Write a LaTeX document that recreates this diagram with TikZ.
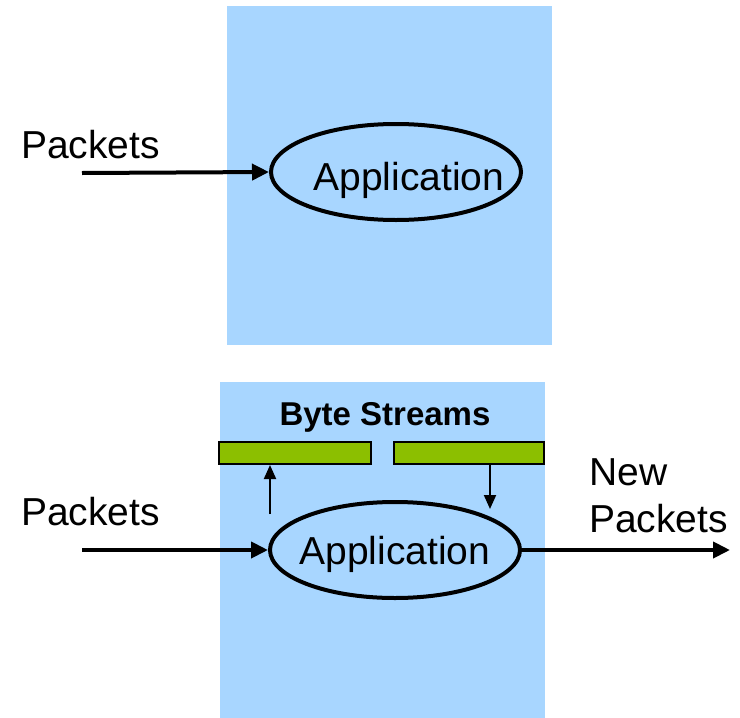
\documentclass[tikz,border=0pt]{standalone}
\usepackage{xcolor}
\usepackage{fontspec}
\setmainfont{Liberation Sans}
\usetikzlibrary{shapes.geometric,arrows.meta}
\definecolor{panelblue}{RGB}{168,214,255}
\definecolor{streamgreen}{RGB}{140,191,0}
\begin{document}
\begin{tikzpicture}[
    x=1pt, y=-1pt,
    every node/.style={font=\fontsize{39pt}{47pt}\selectfont, inner sep=0pt},
    app/.style={ellipse, draw, line width=4pt, minimum width=250pt, minimum height=96pt},
    stream/.style={rectangle, draw, fill=streamgreen, line width=2pt, minimum height=22pt},
    flow/.style={line width=4pt, -{Triangle[length=17pt,width=16pt]}},
    copy/.style={line width=2pt, -{Triangle[length=14pt,width=12pt]}}
]
\useasboundingbox (0,0) rectangle (740,718);
\fill[panelblue] (227,6) rectangle (552,345);
\fill[panelblue] (220,382) rectangle (545,718);
% top: packets go to the application
\node[app] (app1) at (396,172) {};
\node[anchor=base] (app1text) at (409,190) {Application};
\node[anchor=base west] (pkt1) at (21,158) {Packets};
\coordinate (in1) at (82,173);
\draw[flow] (in1) -- (app1.west);
% bottom: application writes new packets
\node[app] (app2) at (395,550) {};
\node[anchor=base] (app2text) at (395,564) {Application};
\node[anchor=base west] (pkt2) at (21,525) {Packets};
\node[anchor=base west, align=left] (newpkt) at (589,532) {New\\Packets};
\node[anchor=base, font=\bfseries\fontsize{33pt}{39pt}\selectfont] (title) at (385,425) {Byte Streams};
\node[stream, minimum width=152pt] (bar1) at (295,453) {};
\node[stream, minimum width=150pt] (bar2) at (469,453) {};
\coordinate (in2) at (82,550);
\coordinate (out2) at (730,550);
\coordinate (up) at (270,514);
\coordinate (down) at (490,509);
\draw[flow] (in2) -- (app2.west);
\draw[flow] (app2.east) -- (out2);
\draw[copy] (up) -- (up |- bar1.south);
\draw[copy] (down |- bar2.south) -- (down);
\end{tikzpicture}
\end{document}
